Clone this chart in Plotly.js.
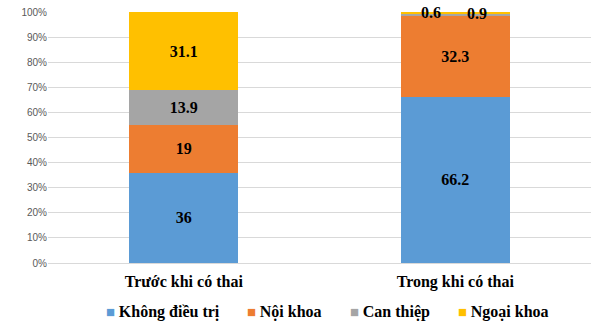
<!DOCTYPE html>
<html>
<head>
<meta charset="utf-8">
<script src="https://cdn.plot.ly/plotly-3.0.1.min.js"></script>
<style>html,body{margin:0;padding:0;background:#fff;}#chart{width:591px;height:323px;}</style>
</head>
<body>
<div id="chart"></div>
<script>
const categories = ["Trước khi có thai", "Trong khi có thai"];
const seriesNames = ["Không điều trị", "Nội khoa", "Can thiệp", "Ngoại khoa"];
const khongDieuTri = [36, 66.2];
const noiKhoa = [19, 32.3];
const canThiep = [13.9, 0.6];
const ngoaiKhoa = [31.1, 0.9];
const colors = ["#5B9BD5", "#ED7D31", "#A5A5A5", "#FFC000"];
const tickVals = [0, 10, 20, 30, 40, 50, 60, 70, 80, 90, 100];
const tickText = ["0%", "10%", "20%", "30%", "40%", "50%", "60%", "70%", "80%", "90%", "100%"];

const series = [khongDieuTri, noiKhoa, canThiep, ngoaiKhoa];
const labelFont = {family: "Liberation Serif", size: 16, color: "#000", weight: "bold"};
const traces = series.map((vals, i) => ({
  type: "bar",
  name: seriesNames[i],
  x: categories,
  y: vals,
  marker: {color: colors[i]},
  text: vals.map(v => v >= 5 ? String(v) : ""),
  textposition: "inside",
  insidetextanchor: "middle",
  textfont: labelFont,
  hoverinfo: "none",
  showlegend: false
}));

const annotations = [];
const smallShift = {2: -24, 3: 22};
series.forEach((vals, i) => {
  vals.forEach((v, j) => {
    if (v < 5) {
      let cum = 0;
      for (let k = 0; k <= i; k++) cum += series[k][j];
      annotations.push({
        x: categories[j], y: cum, xref: "x", yref: "y",
        text: "<b>" + v + "</b>", showarrow: false,
        xshift: smallShift[i] || 0, yshift: i === 2 ? 2 : -1,
        font: labelFont
      });
    }
  });
});

// legend drawn as annotations (compact symbol-text spacing like the reference)
const legendX = [104, 245, 348, 456];
seriesNames.forEach((name, i) => {
  annotations.push({
    xref: "paper", yref: "paper",
    x: (legendX[i] - 48) / 543, y: -(312 - 263) / 251,
    xanchor: "left", yanchor: "middle", showarrow: false,
    text: '<span style="color:' + colors[i] + ';font-size:15px">■ </span><b>' + name + '</b>',
    font: {family: "Liberation Serif", size: 16, color: "#000"}
  });
});

const layout = {
  width: 591, height: 323,
  margin: {l: 48, r: 0, t: 12, b: 60},
  barmode: "stack",
  bargap: 0.6,
  paper_bgcolor: "#fff", plot_bgcolor: "#fff",
  showlegend: false,
  xaxis: {tickfont: {family: "Liberation Serif", size: 16, color: "#000", weight: "bold"},
          showline: true, linecolor: "#d9d9d9", linewidth: 1, ticks: "", ticklabelstandoff: 4,
          fixedrange: true},
  yaxis: {range: [0, 100], tickvals: tickVals, ticktext: tickText,
          tickfont: {family: "Liberation Sans", size: 10, color: "#595959"},
          showgrid: true, gridcolor: "#d9d9d9", zeroline: false, ticks: "", ticklen: 0,
          fixedrange: true},
  annotations: annotations
};
Plotly.newPlot("chart", traces, layout, {displayModeBar: false, staticPlot: true});
</script>
</body>
</html>
